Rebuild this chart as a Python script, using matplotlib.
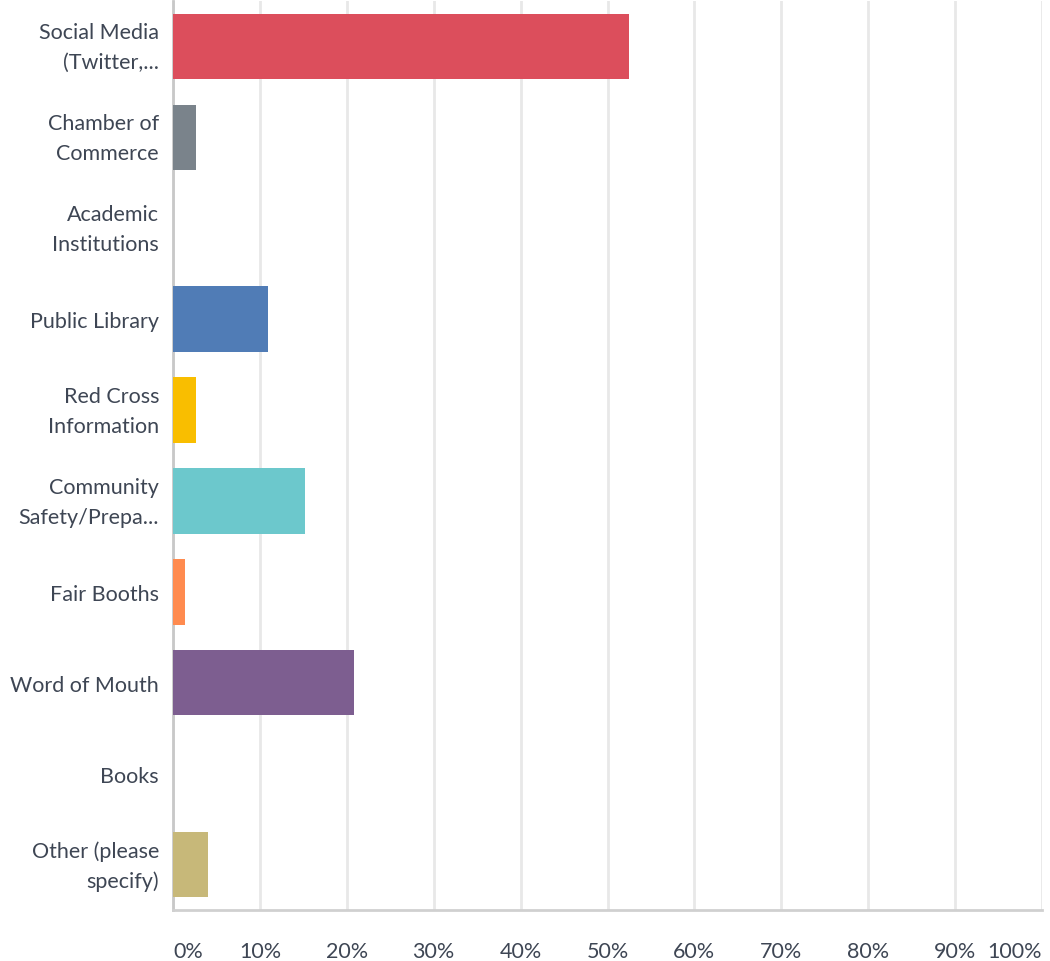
import matplotlib.pyplot as plt
import matplotlib.transforms as mtransforms
import numpy as np

labels = ['Social Media\n(Twitter,...', 'Chamber of\nCommerce', 'Academic\nInstitutions',
          'Public Library', 'Red Cross\nInformation', 'Community\nSafety/Prepa...',
          'Fair Booths', 'Word of Mouth', 'Books', 'Other (please\nspecify)']
values = [52.5, 2.6, 0.0, 10.9, 2.6, 15.2, 1.4, 20.8, 0.0, 4.0]
colors = ['#DC4E5C', '#7A838B', '#F0F0F0', '#507CB6', '#F9BE00', '#6CC8CC',
          '#FF8B4F', '#7D5E90', '#A0A0A0', '#C7B879']
ticks = [0, 10, 20, 30, 40, 50, 60, 70, 80, 90, 100]
tick_labels = ['0%', '10%', '20%', '30%', '40%', '50%', '60%', '70%', '80%', '90%', '100%']

plt.rcParams['font.family'] = ['Lato', 'DejaVu Sans']

fig = plt.figure(figsize=(10.5, 9.62), dpi=100)
ax = fig.add_axes([173/1050, 1 - 911/962, (1042-173)/1050, (911-2)/962])

y = np.arange(len(labels))
ax.barh(y, values, height=0.72, color=colors, zorder=3)
ax.set_ylim(len(labels) - 0.5, -0.5)
ax.set_xlim(0, 100)

ax.set_xticks(ticks)
ax.set_xticklabels(tick_labels, fontsize=15.5, color='#3E4654')
xt = ax.get_xticklabels()
xt[0].set_horizontalalignment('left')
xt[-1].set_horizontalalignment('right')
ax.set_yticks(y)
ax.set_yticklabels(labels, fontsize=15.5, color='#3E4654', linespacing=1.6)
ax.tick_params(axis='both', length=0)
ax.tick_params(axis='x', pad=22)
ax.tick_params(axis='y', pad=10)

# two-line labels sit a little low; nudge them up
shift = mtransforms.ScaledTranslation(0, 6/100, fig.dpi_scale_trans)
for t in ax.get_yticklabels():
    if '\n' in t.get_text():
        t.set_transform(t.get_transform() + shift)

ax.grid(axis='x', color='#E8E8E8', linewidth=2, zorder=0)
for s in ['top', 'right']:
    ax.spines[s].set_visible(False)
ax.spines['left'].set_color('#C8C8C8')
ax.spines['left'].set_linewidth(2)
ax.spines['bottom'].set_color('#D0D0D0')
ax.spines['bottom'].set_linewidth(2)

fig.savefig('out.png', dpi=100)
